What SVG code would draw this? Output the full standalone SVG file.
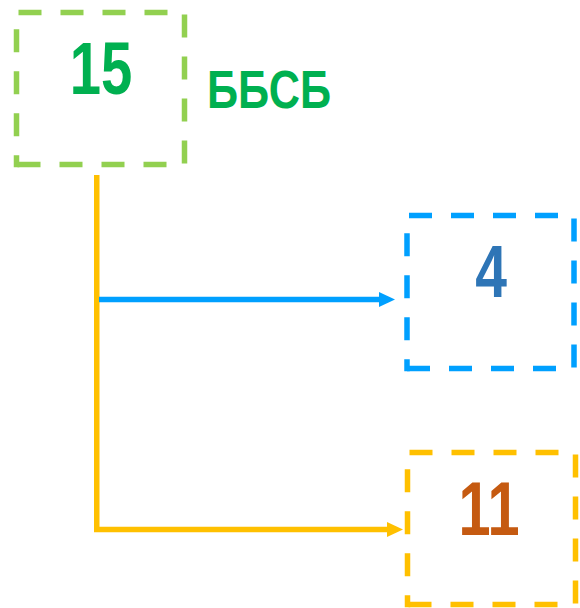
<svg xmlns="http://www.w3.org/2000/svg" width="580" height="608" viewBox="0 0 580 608">
<style>
.box{fill:none;stroke-width:5.5;stroke-dasharray:23 19;stroke-dashoffset:40}
.lft{fill:none;stroke-width:5.5;stroke-dasharray:23 19;stroke-dashoffset:11}
.num{font-family:"Liberation Sans",Arial,sans-serif;font-weight:bold;text-anchor:middle}
.conn{fill:none;stroke-width:5.5}
</style>
<defs>
<marker id="ab" markerUnits="userSpaceOnUse" markerWidth="17" markerHeight="16" refX="0" refY="7.5" orient="auto" viewBox="0 0 17 16">
<path d="M0,0 L16,7.5 L0,15 Z" fill="#00A0FF"/>
</marker>
<marker id="ay" markerUnits="userSpaceOnUse" markerWidth="17" markerHeight="16" refX="0" refY="7.5" orient="auto" viewBox="0 0 17 16">
<path d="M0,0 L16,7.5 L0,15 Z" fill="#FFC000"/>
</marker>
</defs>
<g id="connectors">
<path class="conn" stroke="#FFC000" d="M96.75,175 V529.5 H387" marker-end="url(#ay)"/>
<path class="conn" stroke="#00A0FF" d="M99,299.5 H379" marker-end="url(#ab)"/>
</g>
<g id="node15">
<path class="box" stroke="#92D050" d="M16.5,12.5 H184.5 V164.5 H16.5"/>
<path class="lft" stroke="#92D050" d="M16.5,167.25 V12.5"/>
<text class="num" transform="translate(101,94) scale(0.76,1)" font-size="74" fill="#00B050">15</text>
<text x="207" y="108" font-family="'Liberation Sans',Arial,sans-serif" font-weight="bold" font-size="53" fill="#00B050" textLength="124" lengthAdjust="spacingAndGlyphs">ББСБ</text>
</g>
<g id="node4">
<path class="box" stroke="#00A0FF" d="M407,215.5 H574 V368.5 H407"/>
<path class="lft" stroke="#00A0FF" d="M407,371.25 V215.5"/>
<text class="num" transform="translate(491,297) scale(0.76,1)" font-size="75" fill="#2E75B6">4</text>
</g>
<g id="node11">
<path class="box" stroke="#FFC000" d="M407.5,452.5 H575.5 V604.5 H407.5"/>
<path class="lft" stroke="#FFC000" d="M407.5,607.25 V452.5"/>
<text class="num" transform="translate(489,535) scale(0.76,1)" font-size="76" fill="#C55A11">11</text>
</g>
</svg>
